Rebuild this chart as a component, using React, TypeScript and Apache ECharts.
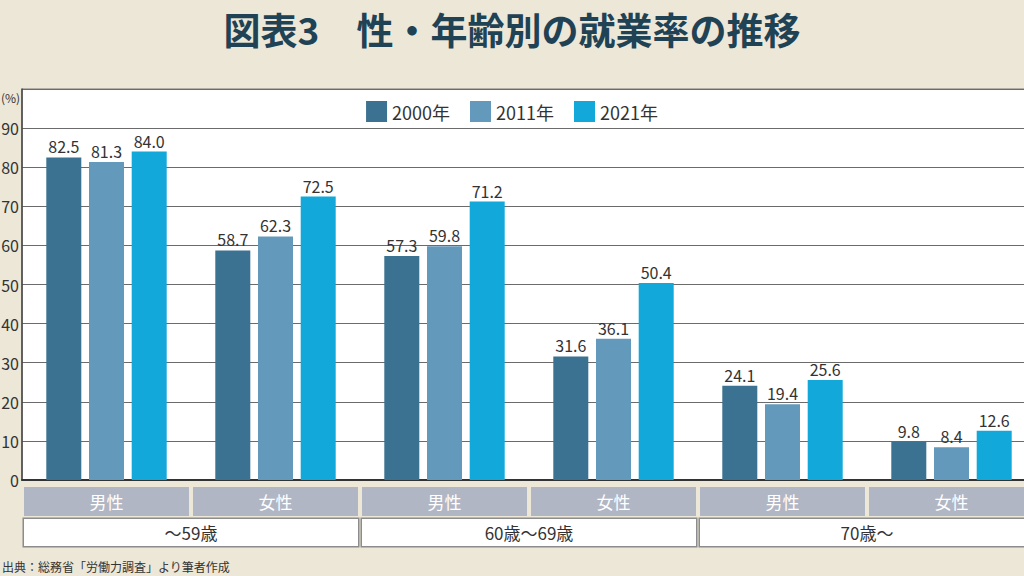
import React, { useEffect, useRef } from "react";
import * as echarts from "echarts";

const genderCategories = ["男性", "女性", "男性", "女性", "男性", "女性"];
const ageGroups = ["～59歳", "60歳～69歳", "70歳～"];
const seriesNames = ["2000年", "2011年", "2021年"];
const values2000 = [82.5, 58.7, 57.3, 31.6, 24.1, 9.8];
const values2011 = [81.3, 62.3, 59.8, 36.1, 19.4, 8.4];
const values2021 = [84.0, 72.5, 71.2, 50.4, 25.6, 12.6];
const seriesColors = ["#3b7191", "#6399bb", "#13a8da"];

const FONT = "'Noto Sans CJK JP', 'Noto Sans', sans-serif";

export default function App() {
  const ref = useRef<HTMLDivElement>(null);
  useEffect(() => {
    if (!ref.current) return;
    const chart = echarts.init(ref.current, undefined, { renderer: "svg" });
    const data = [values2000, values2011, values2021];
    chart.setOption({
      animation: false,
      backgroundColor: "#ece7d7",
      textStyle: { fontFamily: FONT },
      title: {
        text: "図表3　性・年齢別の就業率の推移",
        left: "center",
        top: 5,
        textStyle: { fontSize: 37, fontWeight: "bold", color: "#1f4254", fontFamily: FONT },
      },
      legend: {
        top: 96,
        left: "center",
        itemWidth: 21,
        itemHeight: 21,
        itemGap: 20,
        icon: "rect",
        textStyle: { fontSize: 18, color: "#333", fontFamily: FONT },
        data: seriesNames,
      },
      grid: {
        left: 22,
        right: -12,
        top: 89,
        bottom: 96,
        outerBoundsMode: "none",
        containLabel: false,
        show: true,
        backgroundColor: "#ffffff",
        borderColor: "#777",
        borderWidth: 1,
      },
      xAxis: [
        {
          type: "category",
          data: genderCategories,
          axisLine: { show: true, lineStyle: { color: "#333", width: 2 } },
          axisTick: { show: false },
          axisLabel: {
            margin: 7,
            color: "#ffffff",
            fontSize: 17,
            fontFamily: FONT,
            backgroundColor: "#b1b6c4",
            width: 165,
            height: 29,
            lineHeight: 29,
            align: "center",
            verticalAlign: "top",
            interval: 0,
          },
        },
        {
          type: "category",
          data: ageGroups,
          position: "bottom",
          offset: 32,
          axisLine: { show: false },
          axisTick: { show: false },
          axisLabel: {
            margin: 7,
            color: "#333",
            fontSize: 17,
            fontFamily: FONT,
            backgroundColor: "#ffffff",
            borderColor: "#8c8c8c",
            borderWidth: 1.5,
            width: 334,
            height: 27,
            lineHeight: 27,
            align: "center",
            verticalAlign: "top",
            interval: 0,
          },
        },
      ],
      yAxis: {
        type: "value",
        min: 0,
        max: 100,
        interval: 10,
        axisLine: { show: true, lineStyle: { color: "#444", width: 1.5 } },
        axisTick: { show: false },
        splitLine: { lineStyle: { color: "#6b6b6b", width: 1 } },
        axisLabel: {
          margin: 3,
          fontSize: 16,
          color: "#333",
          fontFamily: FONT,
          formatter: (v: number) => (v >= 100 ? "" : String(v)),
        },
      },
      graphic: [
        {
          type: "text",
          x: 1,
          y: 97,
          style: {
            text: "(%)",
            fontSize: 12,
            fill: "#333",
            fontFamily: FONT,
            textAlign: "left",
            textVerticalAlign: "middle",
          },
        },
        {
          type: "text",
          x: 2,
          y: 566,
          style: {
            text: "出典：総務省「労働力調査」より筆者作成",
            fontSize: 12,
            fill: "#333",
            fontFamily: FONT,
            textAlign: "left",
            textVerticalAlign: "middle",
          },
        },
      ],
      series: seriesNames.map((name, i) => ({
        name,
        type: "bar",
        xAxisIndex: 0,
        data: data[i],
        barWidth: 35,
        barGap: "22%",
        itemStyle: { color: seriesColors[i] },
        label: {
          show: true,
          position: "top",
          distance: 3,
          fontSize: 16,
          color: "#333",
          fontFamily: FONT,
          formatter: (p: any) => Number(p.value).toFixed(1),
        },
      })),
    });
    return () => chart.dispose();
  }, []);
  return (
    <div style={{ position: "fixed", left: 0, top: 0, width: 1024, height: 576, overflow: "hidden" }}>
      <div ref={ref} style={{ width: 1024, height: 576 }} />
    </div>
  );
}
